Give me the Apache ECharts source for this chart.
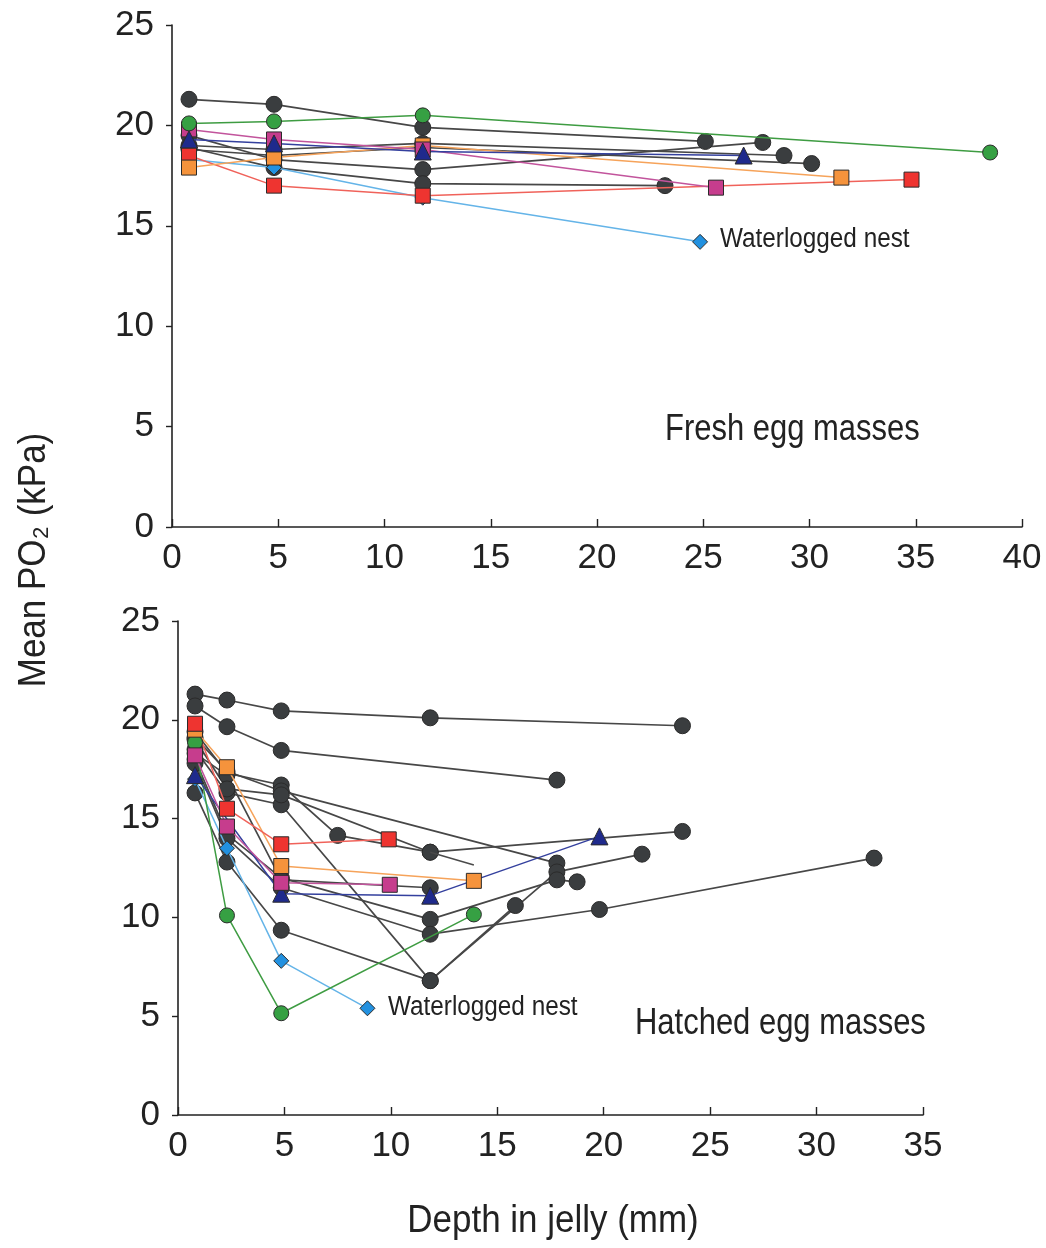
<!DOCTYPE html>
<html><head><meta charset="utf-8">
<script src="https://cdn.jsdelivr.net/npm/echarts@6/dist/echarts.min.js"></script>
<style>html,body{margin:0;padding:0;background:#fff}#c{width:1046px;height:1248px}</style>
</head><body><div id="c"></div><script>
// ---------- DATA : Fresh egg masses (depth mm, mean PO2 kPa) ----------
const fresh_black1 = [[0.8,21.3],[4.8,21.05],[11.8,19.9],[25.1,19.2]];
const fresh_black2 = [[0.8,19.5],[4.8,18.3],[11.8,17.8],[27.8,19.15]];
const fresh_black3 = [[0.8,19.0],[4.8,18.8],[11.8,19.1],[28.8,18.5]];
const fresh_black4 = [[0.8,18.8],[4.8,18.5],[11.8,18.9],[30.1,18.1]];
const fresh_black5 = [[0.8,18.9],[4.8,17.9],[11.8,17.1],[23.2,17.0]];
const fresh_green  = [[0.8,20.1],[4.8,20.2],[11.8,20.5],[38.5,18.65]];
const fresh_red    = [[0.8,18.5],[4.8,17.0],[11.8,16.5],[34.8,17.3]];
const fresh_orange = [[0.8,17.9],[4.8,18.4],[11.8,19.0],[31.5,17.4]];
const fresh_magenta= [[0.8,19.8],[4.8,19.3],[11.8,18.8],[25.6,16.9]];
const fresh_navy   = [[0.8,19.3],[4.8,19.1],[11.8,18.7],[26.9,18.5]];
const fresh_water  = [[0.8,18.3],[4.8,17.9],[11.8,16.4],[24.85,14.2]];

// ---------- DATA : Hatched egg masses ----------
const hatched_black1 = [[0.8,21.3],[2.3,21.0],[4.85,20.45],[11.85,20.1],[23.7,19.7]];
const hatched_black2 = [[0.8,20.7],[2.3,19.65],[4.85,18.45],[17.8,16.95]];
const hatched_black3 = [[0.8,19.4],[2.3,17.3],[4.85,16.7],[7.5,14.15],[11.85,13.3],[23.7,14.35]];
const hatched_black4 = [[0.8,19.1],[2.3,17.4],[4.85,16.4],[17.8,12.75]];
const hatched_black5 = [[0.8,18.5],[2.3,16.3],[4.85,15.7],[11.85,6.8],[17.8,12.3],[21.8,13.2]];
const hatched_black6 = [[0.8,16.3],[2.3,12.8],[4.85,9.35],[11.85,6.8],[15.85,10.6]];
const hatched_black7 = [[0.8,18.0],[2.3,14.2],[4.85,12.0],[11.85,9.9],[17.8,11.9],[18.75,11.8]];
const hatched_black8 = [[0.8,17.8],[2.3,14.0],[4.85,11.5],[11.85,9.15],[19.8,10.4],[32.7,13.0]];
const hatched_black9 = [[0.8,18.3],[2.3,17.2],[4.85,11.9],[11.85,11.5]];
const hatched_black10= [[0.8,19.0],[2.3,16.5],[4.85,16.2],[11.85,13.3]];
const hatched_tail   = [[11.85,13.3],[13.9,12.65]];
const hatched_red    = [[0.8,19.8],[2.3,15.5],[4.85,13.7],[9.9,13.95]];
const hatched_green  = [[0.8,18.85],[2.3,10.1],[4.85,5.15],[13.9,10.15]];
const hatched_water  = [[0.8,17.0],[2.3,13.5],[4.85,7.8],[8.9,5.4]];
const hatched_navy   = [[0.8,17.2],[4.85,11.2],[11.85,11.1],[19.8,14.1]];
const hatched_magenta= [[0.8,18.2],[2.3,14.6],[4.85,11.75],[9.95,11.65]];
const hatched_orange = [[0.8,19.5],[2.3,17.6],[4.85,12.6],[13.9,11.85]];

// ---------- styles ----------
const STY = {
  black:  {fill:'#3a3d3f', line:'#474747', symbol:'circle',   size:16, w:1.7},
  green:  {fill:'#36a043', line:'#3e9c42', symbol:'circle',   size:15, w:1.5},
  red:    {fill:'#ee3430', line:'#f0625a', symbol:'rect',     size:15, w:1.5},
  orange: {fill:'#f5933c', line:'#f6a35a', symbol:'rect',     size:15, w:1.5},
  magenta:{fill:'#c63d8d', line:'#c2549c', symbol:'rect',     size:15, w:1.5},
  navy:   {fill:'#1f2a8c', line:'#34409e', symbol:'triangle', size:17, w:1.5},
  water:  {fill:'#2291e0', line:'#64b4e8', symbol:'diamond',  size:15, w:1.5},
  tail:   {fill:'#64b4e8', line:'#4a4a4a', symbol:'none',     size:0,  w:1.5}
};
function mk(data, kind, idx){
  const s = STY[kind];
  return {
    type:'line', xAxisIndex:idx, yAxisIndex:idx, data:data,
    symbol:s.symbol, symbolSize:s.size, showSymbol: s.symbol!=='none',
    lineStyle:{color:s.line, width:s.w},
    itemStyle:{color:s.fill, borderColor:'#2b2b2b', borderWidth:1},
    animation:false, clip:false, z: kind==='black'?2:3
  };
}
const FONT = "'Liberation Sans',Arial,sans-serif";
function xAx(idx, max){
  return {type:'value', gridIndex:idx, min:0, max:max, interval:5,
    axisLine:{lineStyle:{color:'#222', width:1.6}},
    axisTick:{inside:true, length:8, lineStyle:{color:'#222', width:1.4}},
    axisLabel:{fontFamily:FONT, fontSize:35, color:'#222', margin:14},
    splitLine:{show:false}};
}
function yAx(idx){
  return {type:'value', gridIndex:idx, min:0, max:25, interval:5,
    axisLine:{show:true, lineStyle:{color:'#222', width:1.6}},
    axisTick:{show:true, length:6, lineStyle:{color:'#222', width:1.4}},
    axisLabel:{fontFamily:FONT, fontSize:35, color:'#222', margin:18},
    splitLine:{show:false}};
}

const series = [
  mk(fresh_black1,'black',0), mk(fresh_black2,'black',0), mk(fresh_black3,'black',0),
  mk(fresh_black4,'black',0), mk(fresh_black5,'black',0),
  mk(fresh_water,'water',0), mk(fresh_red,'red',0), mk(fresh_orange,'orange',0),
  mk(fresh_magenta,'magenta',0), mk(fresh_navy,'navy',0), mk(fresh_green,'green',0),
  mk(hatched_black1,'black',1), mk(hatched_black2,'black',1), mk(hatched_black3,'black',1),
  mk(hatched_black4,'black',1), mk(hatched_black5,'black',1), mk(hatched_black6,'black',1),
  mk(hatched_black7,'black',1), mk(hatched_black8,'black',1), mk(hatched_black9,'black',1),
  mk(hatched_black10,'black',1), mk(hatched_tail,'tail',1),
  mk(hatched_water,'water',1), mk(hatched_green,'green',1), mk(hatched_navy,'navy',1),
  mk(hatched_magenta,'magenta',1), mk(hatched_orange,'orange',1), mk(hatched_red,'red',1)
];

function txt(x, y, s, size, sx, align, rot){
  return {type:'text', x:x, y:y, rotation:rot||0, scaleX:sx,
    style:{text:s, fontFamily:FONT, fontSize:size, fill:'#222', align:align, verticalAlign:'middle'}};
}

const chart = echarts.init(document.getElementById('c'), null, {renderer:'canvas'});
chart.setOption({
  backgroundColor:'#fff',
  animation:false,
  grid:[
    {left:172, top:25, width:850, height:502},
    {left:178, top:621, width:745, height:494}
  ],
  xAxis:[xAx(0,40), xAx(1,35)],
  yAxis:[yAx(0), yAx(1)],
  series: series,
  graphic:[
    txt(35, 560, 'Mean PO\u2082 (kPa)', 38, 0.92, 'center', Math.PI/2),
    txt(553, 1222, 'Depth in jelly (mm)', 38, 0.92, 'center'),
    txt(720, 240, 'Waterlogged nest', 27, 0.9, 'left'),
    txt(665, 430, 'Fresh egg masses', 36, 0.86, 'left'),
    txt(388, 1008, 'Waterlogged nest', 27, 0.9, 'left'),
    txt(635, 1024, 'Hatched egg masses', 36, 0.86, 'left')
  ]
});
</script></body></html>
